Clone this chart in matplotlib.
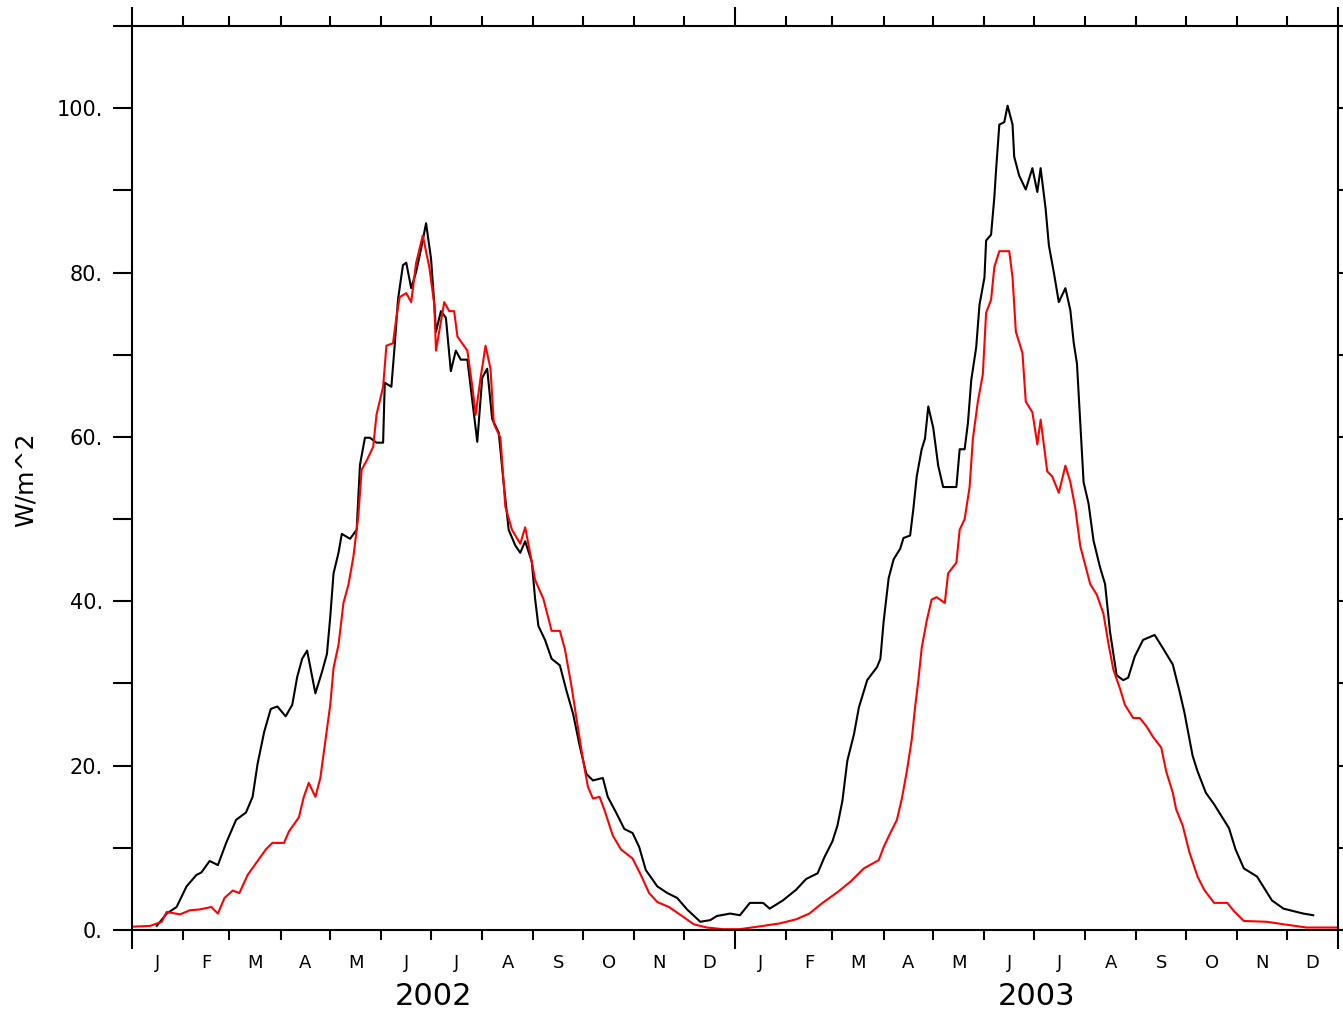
import matplotlib.pyplot as plt
import numpy as np

# days since 1 Jan 2002, two years of data
black_days = [15, 21, 27, 33, 39, 42, 47, 52, 57, 63, 69, 73, 76, 80, 84, 88, 93, 97, 100, 103,
              106, 111, 115, 118, 120, 122, 125, 127, 132, 136, 138, 141, 144, 148, 152, 153, 157, 159, 161, 164,
              166, 169, 172, 175, 178, 181, 183, 184, 187, 190, 193, 196, 199, 203, 205, 207, 209, 212, 215, 218,
              222, 225, 228, 232, 235, 238, 242, 244, 246, 250, 254, 259, 263, 267, 271, 275, 279, 285, 288, 293,
              298, 303, 307, 311, 318, 324, 330, 336, 344, 350, 354, 362, 368, 374, 382, 386, 394, 402, 408, 415,
              419, 424, 427, 430, 433, 437, 440, 442, 445, 451, 453, 455, 458, 461, 465, 467, 471, 473, 475, 478,
              480, 482, 485, 488, 491, 499, 501, 504, 506, 508, 511, 513, 516, 517, 520, 522, 523, 525, 528, 530,
              533, 534, 537, 541, 545, 548, 550, 553, 555, 558, 561, 565, 568, 570, 572, 574, 576, 579, 582, 586,
              589, 592, 596, 600, 603, 607, 612, 619, 624, 630, 634, 637, 642, 645, 650, 655, 659, 664, 668, 673,
              681, 685, 690, 697, 703, 709, 715]
black_vals = [0.5, 2.0, 2.8, 5.3, 6.7, 7.0, 8.4, 7.9, 10.6, 13.4, 14.3, 16.2, 20.2, 24.1, 26.9, 27.2, 26.0, 27.4, 30.8, 33.0,
              34.0, 28.8, 31.4, 33.6, 38.1, 43.4, 45.9, 48.2, 47.6, 48.7, 56.6, 59.9, 59.9, 59.3, 59.3, 66.6, 66.1, 71.1, 76.7, 80.9,
              81.2, 78.1, 80.1, 82.9, 86.0, 81.7, 76.1, 72.8, 75.3, 74.5, 68.0, 70.5, 69.4, 69.4, 66.1, 62.7, 59.4, 67.2, 68.3, 62.2,
              60.5, 54.3, 48.7, 46.8, 45.9, 47.3, 44.8, 40.3, 37.0, 35.3, 33.0, 32.2, 29.1, 26.3, 22.4, 19.0, 18.2, 18.5, 16.2, 14.3,
              12.3, 11.8, 10.1, 7.3, 5.3, 4.5, 3.9, 2.5, 1.0, 1.2, 1.7, 2.0, 1.8, 3.3, 3.3, 2.6, 3.6, 4.9, 6.2, 6.9,
              8.8, 10.8, 12.7, 15.7, 20.6, 23.8, 27.1, 28.4, 30.4, 32.0, 33.0, 37.6, 42.8, 45.1, 46.4, 47.7, 48.0, 51.3, 55.2, 58.5,
              59.8, 63.7, 61.1, 56.5, 53.9, 53.9, 58.5, 58.5, 61.7, 66.9, 70.9, 76.1, 79.4, 83.9, 84.6, 89.2, 92.4, 98.0, 98.3, 100.3,
              98.0, 94.1, 91.8, 90.1, 92.7, 89.8, 92.7, 87.8, 83.3, 80.0, 76.4, 78.1, 75.4, 71.5, 68.9, 61.7, 54.5, 51.9, 47.4, 44.1,
              42.1, 36.3, 31.0, 30.4, 30.7, 33.3, 35.3, 35.9, 34.3, 32.3, 29.1, 26.5, 21.2, 19.3, 16.7, 15.3, 14.0, 12.4, 9.8, 7.5,
              6.5, 5.2, 3.6, 2.6, 2.3, 2.0, 1.8]

red_days = [0, 11, 18, 21, 29, 35, 41, 48, 52, 56, 61, 65, 70, 75, 81, 85, 92, 95, 101, 104,
            107, 111, 114, 117, 120, 122, 125, 128, 131, 134, 137, 139, 142, 146, 148, 150, 152, 154, 158, 160,
            162, 166, 169, 172, 176, 180, 183, 184, 189, 192, 195, 197, 203, 206, 208, 211, 214, 217, 219, 223,
            226, 230, 235, 238, 242, 244, 249, 254, 259, 262, 266, 269, 273, 276, 279, 283, 286, 291, 296, 303,
            308, 313, 318, 325, 333, 340, 348, 358, 368, 382, 392, 402, 410, 418, 427, 435, 443, 452, 455, 459,
            463, 466, 469, 472, 474, 476, 478, 481, 484, 487, 492, 494, 499, 501, 504, 507, 509, 512, 515, 517,
            520, 522, 525, 531, 533, 535, 539, 541, 545, 548, 550, 554, 557, 561, 565, 568, 571, 574, 577, 580,
            584, 588, 591, 594, 598, 601, 606, 610, 614, 618, 623, 626, 630, 632, 636, 640, 645, 649, 655, 663,
            667, 673, 687, 697, 711, 730]
red_vals = [0.4, 0.5, 1.0, 2.2, 1.9, 2.4, 2.5, 2.8, 2.0, 3.9, 4.8, 4.5, 6.7, 8.1, 9.8, 10.6, 10.6, 12.0, 13.7, 16.2,
            17.9, 16.2, 18.5, 23.0, 27.4, 31.9, 34.7, 39.8, 42.0, 45.4, 50.4, 56.0, 57.1, 58.8, 62.7, 64.4, 66.1, 71.1, 71.4, 74.5,
            77.0, 77.5, 76.4, 81.2, 84.5, 80.6, 76.1, 70.5, 76.4, 75.3, 75.3, 72.2, 70.5, 66.1, 62.7, 67.2, 71.1, 68.3, 61.6, 59.9,
            51.5, 48.7, 47.0, 49.0, 44.8, 42.6, 40.3, 36.4, 36.4, 34.2, 29.7, 25.8, 20.7, 17.4, 16.0, 16.2, 14.6, 11.5, 9.8, 8.7,
            6.7, 4.5, 3.4, 2.8, 1.7, 0.7, 0.3, 0.1, 0.1, 0.5, 0.8, 1.3, 2.0, 3.3, 4.6, 5.9, 7.5, 8.5, 10.1, 11.8,
            13.4, 16.0, 19.3, 23.2, 27.1, 30.4, 34.3, 37.6, 40.2, 40.5, 39.8, 43.4, 44.7, 48.7, 50.0, 53.9, 59.8, 64.3, 67.6, 75.1,
            76.7, 80.7, 82.6, 82.6, 79.4, 72.8, 70.2, 64.3, 63.0, 59.1, 62.1, 55.8, 55.2, 53.2, 56.5, 54.5, 51.3, 46.7, 44.4, 42.1,
            40.8, 38.5, 34.9, 31.7, 29.4, 27.4, 25.8, 25.8, 24.8, 23.5, 22.2, 19.3, 16.7, 14.7, 12.7, 9.5, 6.5, 4.9, 3.3, 3.3,
            2.3, 1.1, 1.0, 0.7, 0.3, 0.3]

month_letters = ['J', 'F', 'M', 'A', 'M', 'J', 'J', 'A', 'S', 'O', 'N', 'D']
month_len = [31, 28, 31, 30, 31, 30, 31, 31, 30, 31, 30, 31]
years = ['2002', '2003']

month_starts = np.cumsum([0] + month_len * 2)  # 25 edges
month_mid = (month_starts[:-1] + month_starts[1:]) / 2.0
year_edges = [0, 365, 730]

fig = plt.figure(figsize=(13.43, 10.14), dpi=100)
ax = fig.add_axes([132 / 1343, 1 - 930 / 1014, 1206 / 1343, 904 / 1014])

ax.plot(black_days, black_vals, color='black', lw=1.5)
ax.plot(red_days, red_vals, color='red', lw=1.5)

ax.set_xlim(0, 730)
ax.set_ylim(0, 110)

for s in ax.spines.values():
    s.set_linewidth(1.5)

# x: long ticks at year boundaries, short ones at month starts
ax.set_xticks(year_edges)
ax.set_xticklabels([])
ax.set_xticks([d for d in month_starts if d not in year_edges], minor=True)
ax.tick_params(axis='x', which='major', direction='out', length=14, width=1.5, top=True, bottom=True)
ax.tick_params(axis='x', which='minor', direction='out', length=7, width=1.5, top=True, bottom=True)

# y: ticks every 10, labels every 20
yt = np.arange(0, 111, 10)
ax.set_yticks(yt)
ax.set_yticklabels(['%d.' % v if v % 20 == 0 and v <= 100 else '' for v in yt], fontsize=15)
ax.tick_params(axis='y', direction='out', length=14, width=1.5, left=True, right=True, pad=7)

tr = ax.get_xaxis_transform()
for i, m in enumerate(month_mid):
    ax.text(m, -0.027, month_letters[i % 12], transform=tr, ha='center', va='top', fontsize=13)
for i, y in enumerate(years):
    ax.text((year_edges[i] + year_edges[i + 1]) / 2.0, -0.058, y, transform=tr,
            ha='center', va='top', fontsize=22)

fig.text(26 / 1343, 1 - 480 / 1014, 'W/m^2', rotation=90, ha='center', va='center', fontsize=18)

plt.savefig('out.png', dpi=100)
